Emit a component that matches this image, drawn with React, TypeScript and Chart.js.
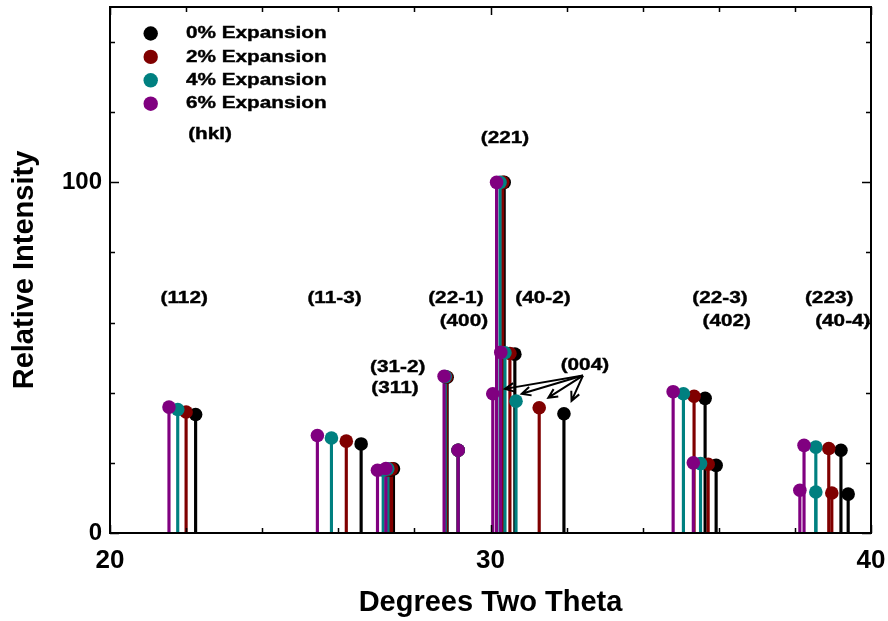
import { useEffect, useRef } from "react";
import { Chart, registerables } from "chart.js";

Chart.register(...registerables);

// ---- Data ----
const seriesLabels = ["0% Expansion", "2% Expansion", "4% Expansion", "6% Expansion"];
const seriesColors = ["#000000", "#800000", "#008080", "#800080"];

// reflections order: (112) (11-3) (31-2) (311) (22-1) (400) (221) (40-2) (004) (22-3) (402) (223) (40-4)
const theta0 = [22.25, 26.6, 27.38, 27.45, 28.86, 29.15, 30.36, 30.64, 31.93, 35.64, 35.93, 39.21, 39.4];
const inten0 = [33.8, 25.4, 18.0, 18.3, 44.4, 23.6, 100, 51.0, 34.0, 38.4, 19.3, 23.6, 11.1];

const theta2 = [22.0, 26.21, 27.3, 27.4, 28.84, 29.15, 30.32, 30.51, 31.28, 35.35, 35.72, 38.89, 38.97];
const inten2 = [34.5, 26.2, 18.0, 18.3, 44.5, 23.6, 100, 51.2, 35.7, 39.0, 19.6, 24.1, 11.4];

const theta4 = [21.78, 25.82, 27.18, 27.3, 28.81, 29.15, 30.25, 30.38, 30.67, 35.07, 35.52, 38.55, 38.55];
const inten4 = [35.2, 27.1, 17.9, 18.3, 44.6, 23.6, 100, 51.4, 37.6, 39.7, 19.8, 24.5, 11.7];

const theta6 = [21.55, 25.45, 27.03, 27.25, 28.78, 29.15, 30.16, 30.27, 30.06, 34.8, 35.33, 38.24, 38.13];
const inten6 = [35.9, 27.8, 17.9, 18.4, 44.7, 23.6, 100, 51.5, 39.7, 40.3, 20.0, 25.0, 12.2];

const seriesTheta = [theta0, theta2, theta4, theta6];
const seriesInten = [inten0, inten2, inten4, inten6];

// hkl annotation labels (data coordinates)
const labelText = ["(hkl)", "(221)", "(112)", "(11-3)", "(22-1)", "(400)", "(40-2)", "(22-3)", "(402)", "(223)", "(40-4)", "(31-2)", "(311)", "(004)"];
const labelX = [22.63, 30.38, 21.95, 25.9, 29.09, 29.3, 31.38, 36.03, 36.21, 38.9, 39.26, 27.56, 27.49, 32.48];
const labelY = [113.6, 112.5, 66.8, 66.8, 66.8, 60.5, 66.8, 66.8, 60.5, 66.8, 60.5, 47.3, 41.2, 47.7];

// (004) arrows: shared start, four tips
const arrowStart = { x: 32.43, y: 44.9 };
const arrowTipX = [30.38, 30.82, 31.52, 32.13];
const arrowTipY = [41.1, 39.7, 38.6, 37.7];

const xTickLabels = [20, 30, 40];
const yTickLabels = [0, 100];

const FONT = "'Liberation Sans', Arial, sans-serif";

const decorPlugin = {
  id: "decor",
  afterDraw(chart: any) {
    const { ctx, chartArea, scales } = chart;
    const xs = scales.x;
    const ys = scales.y;
    const { left, right, top, bottom } = chartArea;
    ctx.save();
    // frame
    ctx.strokeStyle = "#000";
    ctx.lineWidth = 2;
    ctx.strokeRect(left, top, right - left, bottom - top);
    // ticks
    ctx.lineWidth = 1.5;
    ctx.beginPath();
    for (let v = 20; v <= 40; v += 2) {
      const px = Math.round(xs.getPixelForValue(v)) + 0.5;
      const len = v % 10 === 0 ? 8 : 5;
      ctx.moveTo(px, bottom);
      ctx.lineTo(px, bottom - len);
      ctx.moveTo(px, top);
      ctx.lineTo(px, top + len);
    }
    for (let v = 0; v <= 140; v += 20) {
      const py = Math.round(ys.getPixelForValue(v)) + 0.5;
      const len = v % 100 === 0 ? 9 : 5;
      ctx.moveTo(left, py);
      ctx.lineTo(left + len, py);
      ctx.moveTo(right, py);
      ctx.lineTo(right - len, py);
    }
    ctx.stroke();

    // stretched bold text helper
    const drawText = (t: string, x: number, y: number, align: string) => {
      ctx.save();
      ctx.translate(x, y);
      ctx.scale(1.22, 1);
      ctx.font = `bold 17px ${FONT}`;
      ctx.textAlign = align;
      ctx.textBaseline = "middle";
      ctx.fillStyle = "#000";
      ctx.strokeStyle = "#000";
      ctx.lineWidth = 0.4;
      ctx.fillText(t, 0, 0);
      ctx.strokeText(t, 0, 0);
      ctx.restore();
    };

    // annotations
    for (let i = 0; i < labelText.length; i++) {
      drawText(labelText[i], xs.getPixelForValue(labelX[i]), ys.getPixelForValue(labelY[i]), "center");
    }

    // arrows
    const sx = xs.getPixelForValue(arrowStart.x);
    const sy = ys.getPixelForValue(arrowStart.y);
    ctx.strokeStyle = "#000";
    ctx.lineWidth = 2;
    for (let i = 0; i < arrowTipX.length; i++) {
      const tx = xs.getPixelForValue(arrowTipX[i]);
      const ty = ys.getPixelForValue(arrowTipY[i]);
      const ang = Math.atan2(ty - sy, tx - sx);
      const hl = 10;
      const ha = 0.45;
      ctx.beginPath();
      ctx.moveTo(sx, sy);
      ctx.lineTo(tx, ty);
      ctx.moveTo(tx - hl * Math.cos(ang - ha), ty - hl * Math.sin(ang - ha));
      ctx.lineTo(tx, ty);
      ctx.lineTo(tx - hl * Math.cos(ang + ha), ty - hl * Math.sin(ang + ha));
      ctx.stroke();
    }

    // legend
    for (let i = 0; i < seriesLabels.length; i++) {
      const ly = 33.5 + i * 23.4;
      ctx.beginPath();
      ctx.fillStyle = seriesColors[i];
      ctx.arc(150.7, ly, 7.2, 0, Math.PI * 2);
      ctx.fill();
      drawText(seriesLabels[i], 186, ly, "left");
    }
    ctx.restore();
  },
};

export default function App() {
  const ref = useRef<HTMLCanvasElement | null>(null);
  useEffect(() => {
    if (!ref.current) return;
    const datasets: any[] = [];
    for (let s = 0; s < 4; s++) {
      const pts = seriesTheta[s].map((x, i) => ({ x, y: seriesInten[s][i] }));
      datasets.push({
        type: "bar",
        label: seriesLabels[s] + " stems",
        data: pts,
        backgroundColor: seriesColors[s],
        borderWidth: 0,
        barThickness: 2.5,
        grouped: false,
        order: 13 - s,
      });
      datasets.push({
        type: "line",
        label: seriesLabels[s],
        data: pts,
        showLine: false,
        pointRadius: 6.8,
        pointHoverRadius: 6.8,
        pointBackgroundColor: seriesColors[s],
        pointBorderWidth: 0,
        borderColor: seriesColors[s],
        order: 3 - s,
      });
    }
    const chart = new Chart(ref.current, {
      type: "bar",
      data: { datasets },
      options: {
        animation: false,
        responsive: false,
        events: [],
        layout: { padding: { top: 7, right: 17, left: 0, bottom: 0 } },
        plugins: { legend: { display: false }, tooltip: { enabled: false } },
        scales: {
          x: {
            type: "linear",
            min: 20,
            max: 40,
            offset: false,
            grid: { display: false },
            border: { display: false },
            ticks: {
              stepSize: 2,
              autoSkip: false,
              maxRotation: 0,
              padding: 4,
              color: "#000",
              font: { family: FONT, weight: "bold", size: 26 },
              callback: (v: any) => (xTickLabels.includes(Number(v)) ? String(v) : ""),
            },
            title: {
              display: true,
              text: "Degrees Two Theta",
              color: "#000",
              font: { family: FONT, weight: "bold", size: 29 },
              padding: { top: 0, bottom: 1 },
            },
            afterFit: (scale: any) => {
              scale.height = 88;
              scale.paddingLeft = 0;
              scale.paddingRight = 0;
            },
          },
          y: {
            type: "linear",
            min: 0,
            max: 150,
            grid: { display: false },
            border: { display: false },
            ticks: {
              stepSize: 20,
              autoSkip: false,
              padding: 0,
              color: "#000",
              font: { family: FONT, weight: "bold", size: 24 },
              callback: (v: any) => (yTickLabels.includes(Number(v)) ? String(v) : ""),
            },
            title: {
              display: true,
              text: "Relative Intensity",
              color: "#000",
              font: { family: FONT, weight: "bold", size: 29 },
              padding: { top: 8, bottom: 0 },
            },
            afterFit: (scale: any) => {
              scale.width = 110;
              scale.paddingTop = 0;
              scale.paddingBottom = 0;
            },
          },
        },
      },
      plugins: [decorPlugin],
    } as any);
    return () => chart.destroy();
  }, []);
  return (
    <div style={{ position: "absolute", left: 0, top: 0, width: 888, height: 621, background: "#fff" }}>
      <canvas ref={ref} width={888} height={621} style={{ display: "block" }} />
    </div>
  );
}
